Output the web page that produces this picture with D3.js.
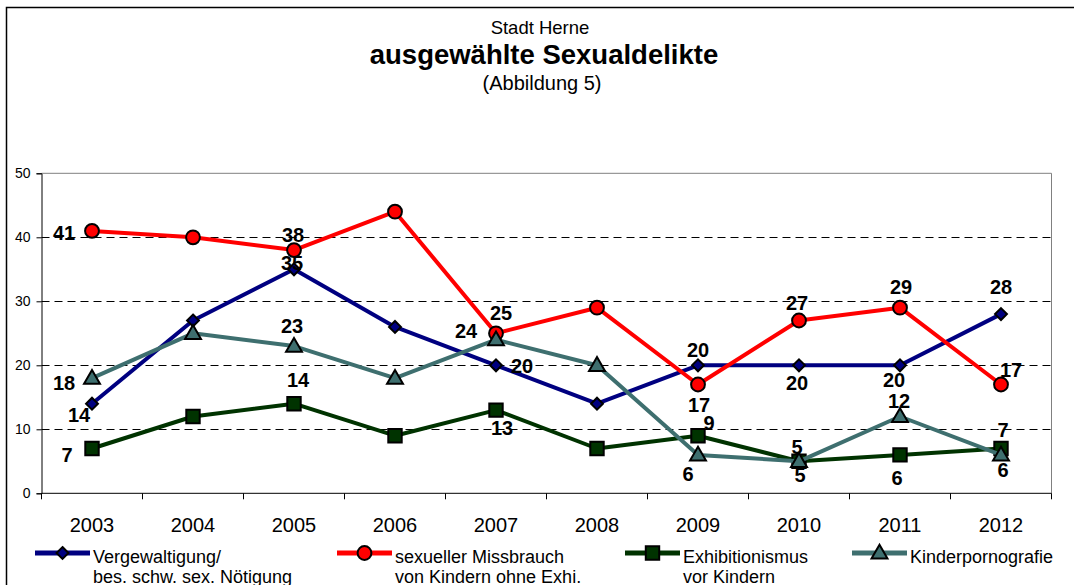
<!DOCTYPE html>
<html>
<head>
<meta charset="utf-8">
<script src="https://cdn.jsdelivr.net/npm/d3@7"></script>
<style>
html,body{margin:0;padding:0;background:#fff;}
svg{display:block;font-family:"Liberation Sans",Arial,sans-serif;}
</style>
</head>
<body>
<svg id="chart" width="1074" height="585"></svg>
<script>
// ---- data ----
const years = ["2003","2004","2005","2006","2007","2008","2009","2010","2011","2012"];
const yTicks = [0,10,20,30,40,50];
const seriesNames = [
  ["Vergewaltigung/","bes. schw. sex. Nötigung"],
  ["sexueller Missbrauch","von Kindern ohne Exhi."],
  ["Exhibitionismus","vor Kindern"],
  ["Kinderpornografie"]
];
const vergewaltigung    = [14,27,35,26,20,14,20,20,20,28];
const missbrauch        = [41,40,38,44,25,29,17,27,29,17];
const exhibitionismus   = [7,12,14,9,13,7,9,5,6,7];
const kinderpornografie = [18,25,23,18,24,20,6,5,12,6];
// which points carry a value label (1 = shown)
const showV = [1,0,1,0,1,0,1,1,1,1];
const showM = [1,0,1,0,1,0,1,1,1,1];
const showE = [1,0,1,0,1,0,1,1,1,1];
const showK = [1,0,1,0,1,0,1,1,1,1];

// ---- label placement (offsets of label centre from the point) ----
const offV = [[-13,11],null,[-2,-7],null,[26,0],null,[0,-16],[-2,17],[-6,14],[0,-27]];
const offM = [[-28,2],null,[-1,-15],null,[5,-21],null,[1,20],[-2,-18],[1,-21],[10,-15]];
const offE = [[-25,6],null,[4,-24],null,[6,18],null,[11,-13],[-2,-15],[-3,23],[2,-19]];
const offK = [[-28,5],null,[-2,-20],null,[-30,-9],null,[-10,19],[1,13],[-1,-16],[2,15]];

const svg = d3.select("#chart");
const W = 1074, H = 585;
const pLeft = 41.5, pRight = 1051.5, pTop = 173.3, pBottom = 493.3;

// outer frame
svg.append("path").attr("d", `M6.5,${H+2} V7.5 H${W+2}`)
  .attr("fill","none").attr("stroke","#000").attr("stroke-width",1.5);

// titles
svg.append("text").attr("x",540).attr("y",34).attr("text-anchor","middle")
  .attr("font-size",18.5).text("Stadt Herne");
svg.append("text").attr("x",544).attr("y",64).attr("text-anchor","middle")
  .attr("font-size",27.5).attr("font-weight","bold").text("ausgewählte Sexualdelikte");
svg.append("text").attr("x",542).attr("y",90).attr("text-anchor","middle")
  .attr("font-size",20).text("(Abbildung 5)");

const x = d3.scaleBand().domain(years).range([pLeft,pRight]).paddingInner(0).paddingOuter(0);
const y = d3.scaleLinear().domain([0,50]).range([pBottom,pTop]);
const cx = d => x(d) + x.bandwidth()/2;

// plot border (top/right grey)
svg.append("path").attr("d",`M${pLeft},${pTop} H${pRight} V${pBottom}`)
  .attr("fill","none").attr("stroke","#808080").attr("stroke-width",1);

// grid lines dashed
svg.append("g").selectAll("line").data(yTicks.filter(t=>t>0 && t<50)).join("line")
  .attr("x1",pLeft).attr("x2",pRight)
  .attr("y1",d=>Math.round(y(d))+0.5).attr("y2",d=>Math.round(y(d))+0.5)
  .attr("stroke","#000").attr("stroke-width",1).attr("stroke-dasharray","8,5");

// y axis
const yAxis = d3.axisLeft(y).tickValues(yTicks).tickSize(5).tickPadding(6);
const gy = svg.append("g").attr("transform",`translate(${pLeft},0)`).call(yAxis);
gy.select(".domain").attr("stroke","#000");
gy.selectAll("text").attr("font-size",14).attr("font-family","Liberation Sans, Arial, sans-serif").attr("fill","#000");

// x axis (ticks between categories)
const gx = svg.append("g").attr("transform",`translate(0,${pBottom})`);
gx.append("line").attr("x1",pLeft).attr("x2",pRight).attr("y1",0).attr("y2",0).attr("stroke","#000");
const bounds = years.map(d=>x(d)).concat([pRight]);
gx.selectAll("line.tk").data(bounds).join("line").attr("class","tk")
  .attr("x1",d=>d).attr("x2",d=>d).attr("y1",0).attr("y2",6).attr("stroke","#000");
gx.selectAll("text").data(years).join("text")
  .attr("x",d=>cx(d)).attr("y",39).attr("text-anchor","middle")
  .attr("font-size",20).text(d=>d);

// series
const series = [
  {vals:vergewaltigung, show:showV, off:offV, color:"#000080", marker:"diamond", fill:"#000080"},
  {vals:missbrauch, show:showM, off:offM, color:"#ff0000", marker:"circle", fill:"#ff0000"},
  {vals:exhibitionismus, show:showE, off:offE, color:"#003300", marker:"square", fill:"#003300"},
  {vals:kinderpornografie, show:showK, off:offK, color:"#3e6f6f", marker:"triangle", fill:"#3e6f6f"}
];
const symbols = {
  diamond: d3.symbol().type(d3.symbolDiamond2).size(90),
  circle: d3.symbol().type(d3.symbolCircle).size(150),
  square: d3.symbol().type(d3.symbolSquare).size(180),
  triangle: d3.symbol().type(d3.symbolTriangle).size(110)
};
const line = d3.line().x(d=>cx(d[0])).y(d=>y(d[1]));

function drawMarker(g, s, px, py){
  let t = `translate(${px},${py})`;
  if(s.marker==="triangle") t += " translate(0,1)";
  g.append("path").attr("d", symbols[s.marker]()).attr("transform",t)
    .attr("fill",s.fill).attr("stroke","#000").attr("stroke-width",2);
}

series.forEach(s=>{
  const pts = years.map((yr,i)=>[yr,s.vals[i]]);
  svg.append("path").attr("d",line(pts)).attr("fill","none")
    .attr("stroke",s.color).attr("stroke-width",4).attr("stroke-linejoin","round");
  const g = svg.append("g");
  pts.forEach(p=>drawMarker(g,s,cx(p[0]),y(p[1])));
});

// data labels
series.forEach(s=>{
  years.forEach((yr,i)=>{
    if(!s.show[i] || !s.off[i]) return;
    svg.append("text")
      .attr("x",cx(yr)+s.off[i][0]).attr("y",y(s.vals[i])+s.off[i][1])
      .attr("dy","0.36em").attr("text-anchor","middle")
      .attr("font-size",20).attr("font-weight","bold").attr("fill","#000")
      .text(s.vals[i]);
  });
});

// legend
const legendX = [35, 337, 625, 852];
const legY = 553;
series.forEach((s,i)=>{
  const g = svg.append("g").attr("transform",`translate(${legendX[i]},0)`);
  g.append("line").attr("x1",0).attr("x2",55).attr("y1",legY).attr("y2",legY)
    .attr("stroke",s.color).attr("stroke-width",5);
  drawMarker(g,s,27.5,legY);
  const txt = g.append("text").attr("x",58).attr("y",legY+10).attr("font-size",18).attr("fill","#000");
  seriesNames[i].forEach((t,j)=>{
    txt.append("tspan").attr("x",58).attr("dy", j===0?0:20).text(t);
  });
});
</script>
</body>
</html>
